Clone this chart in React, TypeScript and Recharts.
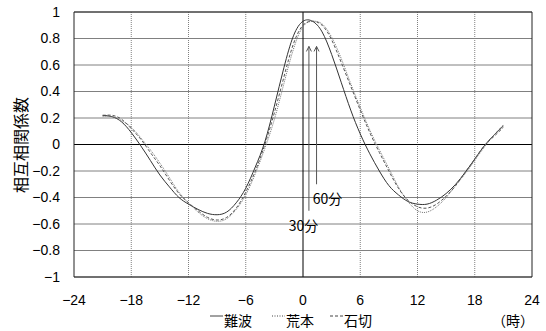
import React from "react";
import {
  LineChart,
  Line,
  XAxis,
  YAxis,
  CartesianGrid,
  ReferenceLine,
  ReferenceDot,
} from "recharts";

const hours = [
  -21, -20, -19, -18, -17, -16, -15, -14, -13, -12, -11, -10, -9, -8, -7, -6, -5, -4, -3, -2, -1,
  0, 1, 2, 3, 4, 5, 6, 7, 8, 9, 10, 11, 12, 13, 14, 15, 16, 17, 18, 19, 20, 21,
];

const namba = [
  0.22, 0.21, 0.17, 0.09, -0.01, -0.12, -0.23, -0.32, -0.4, -0.45, -0.49, -0.52, -0.53, -0.51, -0.44,
  -0.33, -0.17, 0.02, 0.29, 0.58, 0.82, 0.93, 0.93, 0.85, 0.68, 0.47, 0.26, 0.08, -0.07, -0.2, -0.31,
  -0.38, -0.43, -0.45, -0.45, -0.42, -0.37, -0.3, -0.21, -0.11, -0.01, 0.07, 0.14,
];

const aramoto = [
  0.21, 0.21, 0.18, 0.13, 0.05, -0.04, -0.14, -0.25, -0.36, -0.44, -0.51, -0.56, -0.58, -0.56, -0.49,
  -0.38, -0.22, -0.03, 0.19, 0.46, 0.72, 0.89, 0.93, 0.91, 0.81, 0.65, 0.46, 0.28, 0.11, -0.04, -0.18,
  -0.32, -0.43, -0.5, -0.51, -0.47, -0.4, -0.31, -0.22, -0.12, -0.02, 0.07, 0.15,
];

const ishikiri = [
  0.22, 0.22, 0.19, 0.12, 0.04, -0.06, -0.16, -0.27, -0.37, -0.44, -0.5, -0.55, -0.57, -0.55, -0.48,
  -0.36, -0.2, 0.0, 0.24, 0.51, 0.76, 0.9, 0.93, 0.9, 0.79, 0.62, 0.44, 0.26, 0.09, -0.06, -0.2,
  -0.33, -0.42, -0.47, -0.48, -0.45, -0.39, -0.31, -0.21, -0.11, -0.01, 0.06, 0.13,
];

const xTicks = [-24, -18, -12, -6, 0, 6, 12, 18, 24];
const yTicks = [-1, -0.8, -0.6, -0.4, -0.2, 0, 0.2, 0.4, 0.6, 0.8, 1];
const dottedX = [-18, -12, -6, 6, 12, 18];

const seriesNames = ["難波", "荒本", "石切"];
const yLabel = "相互相関係数";
const unitLabel = "（時）";

const arrows = [
  { label: "30分", x: 0.62, bottom: -0.5, top: 0.74, labelX: 0.05, labelY: -0.61 },
  { label: "60分", x: 1.42, bottom: -0.3, top: 0.74, labelX: 2.57, labelY: -0.4 },
];

const data = hours.map((h, i) => ({
  h,
  namba: namba[i],
  aramoto: aramoto[i],
  ishikiri: ishikiri[i],
}));

const FONT = "'Liberation Sans', 'Noto Sans CJK JP', sans-serif";
const CJK = "'Noto Sans CJK JP', sans-serif";

const fmt = (v: number) => {
  const s = Number.isInteger(v) ? String(Math.abs(v)) : Math.abs(v).toFixed(1);
  return v < 0 ? "\u2212" + s : s;
};

const W = 546;
const H = 331;

const YLabel = () => (
  <text
    x={20}
    y={145}
    transform="rotate(-90 20 145)"
    textAnchor="middle"
    dominantBaseline="central"
    fontSize={16}
    fontFamily={CJK}
    fill="#000"
  >
    {yLabel}
  </text>
);

const LegendLabel = () => {
  const y = 320;
  const items = [
    { x1: 210, x2: 223, dash: undefined as string | undefined, tx: 224, name: seriesNames[0] },
    { x1: 272, x2: 285, dash: "1 1.5", tx: 286, name: seriesNames[1] },
    { x1: 330, x2: 343, dash: "3 2", tx: 344, name: seriesNames[2] },
  ];
  return (
    <g>
      {items.map((it, i) => (
        <g key={i}>
          <line x1={it.x1} x2={it.x2} y1={y - 4} y2={y - 4} stroke="#444" strokeDasharray={it.dash} />
          <text x={it.tx} y={y} dominantBaseline="central" fontSize={14} fontFamily={CJK} fill="#000">
            {it.name}
          </text>
        </g>
      ))}
      <text x={492} y={y} dominantBaseline="central" fontSize={14} fontFamily={CJK} fill="#000">
        {unitLabel}
      </text>
    </g>
  );
};

export default function App() {
  return (
    <div style={{ position: "absolute", left: 0, top: 0, width: W, height: H }}>
      <LineChart width={W} height={H} data={data} margin={{ top: 12, right: 14, bottom: 0, left: 0 }}>
        <CartesianGrid vertical={false} stroke="#808080" />
        <XAxis
          dataKey="h"
          type="number"
          domain={[-24, 24]}
          ticks={xTicks}
          tickFormatter={fmt}
          height={54}
          tickLine={false}
          tickSize={16}
          tickMargin={2}
          axisLine={{ stroke: "#222" }}
          tick={{ fill: "#000", fontSize: 14, fontFamily: FONT }}
          interval={0}
          label={LegendLabel}
        />
        <YAxis
          type="number"
          domain={[-1, 1]}
          ticks={yTicks}
          tickFormatter={fmt}
          width={74}
          tickLine={false}
          tickSize={12}
          tickMargin={2}
          axisLine={{ stroke: "#222" }}
          tick={{ fill: "#000", fontSize: 14, fontFamily: FONT }}
          interval={0}
          label={YLabel}
        />
        {dottedX.map((x) => (
          <ReferenceLine key={x} x={x} stroke="#808080" strokeDasharray="1 1" />
        ))}
        <ReferenceLine y={0} stroke="#000" />
        <ReferenceLine x={0} stroke="#000" />
        <ReferenceLine y={1} stroke="#222" />
        <ReferenceLine x={24} stroke="#222" />
        {arrows.map((a) => (
          <ReferenceLine
            key={a.label + "l"}
            segment={[
              { x: a.x, y: a.bottom },
              { x: a.x, y: a.top },
            ]}
            stroke="#555"
          />
        ))}
        {arrows.map((a) => (
          <ReferenceDot
            key={a.label + "h"}
            x={a.x}
            y={a.top}
            r={0}
            shape={(p: any) => (
              <path
                d={`M${p.cx - 2.5},${p.cy + 5} L${p.cx},${p.cy} L${p.cx + 2.5},${p.cy + 5}`}
                stroke="#555"
                fill="none"
              />
            )}
          />
        ))}
        {arrows.map((a) => (
          <ReferenceDot
            key={a.label + "t"}
            x={a.labelX}
            y={a.labelY}
            r={0}
            shape={(p: any) => (
              <text
                x={p.cx}
                y={p.cy}
                textAnchor="middle"
                dominantBaseline="central"
                fontSize={14}
                fontFamily={CJK}
                fill="#000"
              >
                {a.label}
              </text>
            )}
          />
        ))}
        <Line
          dataKey="namba"
          type="natural"
          stroke="#333"
          strokeWidth={1}
          dot={false}
          isAnimationActive={false}
        />
        <Line
          dataKey="aramoto"
          type="natural"
          stroke="#777"
          strokeWidth={1}
          strokeDasharray="1 1"
          dot={false}
          isAnimationActive={false}
        />
        <Line
          dataKey="ishikiri"
          type="natural"
          stroke="#555"
          strokeWidth={1}
          strokeDasharray="3 2"
          dot={false}
          isAnimationActive={false}
        />
      </LineChart>
    </div>
  );
}
